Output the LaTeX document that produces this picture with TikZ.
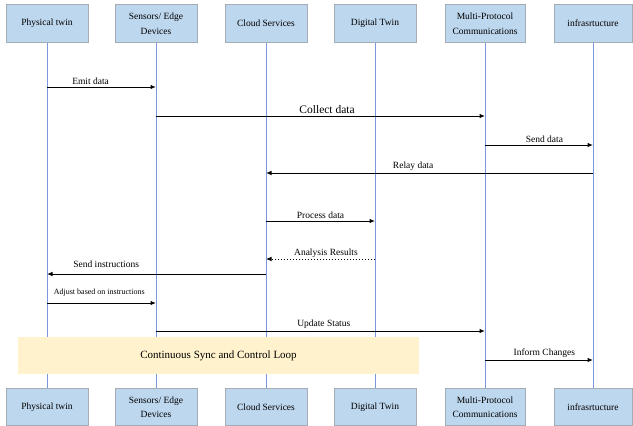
\documentclass[tikz,border=0pt]{standalone}
\usepackage{fontspec}
\setmainfont{Liberation Serif}
\usetikzlibrary{arrows.meta,positioning}

\definecolor{boxblue}{RGB}{189,215,238}
\definecolor{boxedge}{RGB}{165,172,182}
\definecolor{lifeblue}{RGB}{122,152,222}
\definecolor{loopyellow}{RGB}{255,242,204}

\tikzset{
  actor/.style={draw=boxedge, fill=boxblue, minimum width=82pt, minimum height=37.5pt,
    align=center, inner sep=1pt, line width=0.6pt, font=\fontsize{9.5}{14.5}\selectfont},
  lifeline/.style={draw=lifeblue, line width=0.8pt},
  msg/.style={-{Latex[length=5.5pt,width=4.5pt]}, line width=1pt},
  lbl/.style={above, inner sep=1.5pt, font=\fontsize{9.5}{10}\selectfont},
}

\begin{document}
\begin{tikzpicture}[x=1pt, y=-1pt]
  \useasboundingbox (0,0) rectangle (633,426);

  % The participants on top
  \node[actor] (pt)  at (47,23.5)  {Physical twin};
  \node[actor] (sed) at (156,23.5) {Sensors/ Edge\\Devices};
  \node[actor] (cs)  at (266,23.5) {Cloud Services};
  \node[actor] (dt)  at (375,23.5) {Digital Twin};
  \node[actor, minimum width=80pt] (mpc) at (485,23.5) {Multi-Protocol\\Communications};
  \node[actor, minimum width=78pt] (inf) at (593,23.5) {infrasrtucture};

  % The same participants at the bottom
  \node[actor] (ptb)  at (47,407)  {Physical twin};
  \node[actor] (sedb) at (156,407) {Sensors/ Edge\\Devices};
  \node[actor] (csb)  at (266,407) {Cloud Services};
  \node[actor] (dtb)  at (375,407) {Digital Twin};
  \node[actor, minimum width=80pt] (mpcb) at (485,407) {Multi-Protocol\\Communications};
  \node[actor, minimum width=78pt] (infb) at (593,407) {infrasrtucture};

  % Lifelines
  \draw[lifeline] (pt) -- (ptb);
  \draw[lifeline] (sed) -- (sedb);
  \draw[lifeline] (cs) -- (csb);
  \draw[lifeline] (dt) -- (dtb);
  \draw[lifeline] (mpc) -- (mpcb);
  \draw[lifeline] (inf) -- (infb);

  % Messages
  \draw[msg] (pt |- 0,87) -- node[lbl, pos=0.4] {Emit data} (sed |- 0,87);
  \draw[msg] (sed |- 0,116) -- node[lbl, pos=0.52, font=\fontsize{11.5}{12}\selectfont] {Collect data} (mpc |- 0,116);
  \draw[msg] (mpc |- 0,145) -- node[lbl, pos=0.55] {Send data} (inf |- 0,145);
  \draw[msg] (inf |- 0,173) -- node[lbl, pos=0.55] {Relay data} (cs |- 0,173);
  \draw[msg] (cs |- 0,221) -- node[lbl, pos=0.5] {Process data} (dt |- 0,221);
  \draw[msg, dotted, line width=0.8pt] (dt |- 0,259) -- node[lbl, pos=0.45] {Analysis Results} (cs |- 0,259);
  \draw[msg] (cs |- 0,274) -- node[lbl, pos=0.73, yshift=4pt] {Send instructions} (pt |- 0,274);
  \draw[msg] (pt |- 0,303) -- node[lbl, pos=0.48, yshift=5pt, font=\fontsize{8}{9}\selectfont] {Adjust based on instructions} (sed |- 0,303);
  \draw[msg] (sed |- 0,331) -- node[lbl, pos=0.51] {Update Status} (mpc |- 0,331);
  \draw[msg] (mpc |- 0,360) -- node[lbl, pos=0.55] {Inform Changes} (inf |- 0,360);

  % The loop band over the lifelines
  \node[fill=loopyellow, minimum width=401pt, minimum height=37pt, inner sep=0pt,
    font=\fontsize{11}{12}\selectfont] (loop) at (218.5,355.5) {Continuous Sync and Control Loop};

\end{tikzpicture}
\end{document}
